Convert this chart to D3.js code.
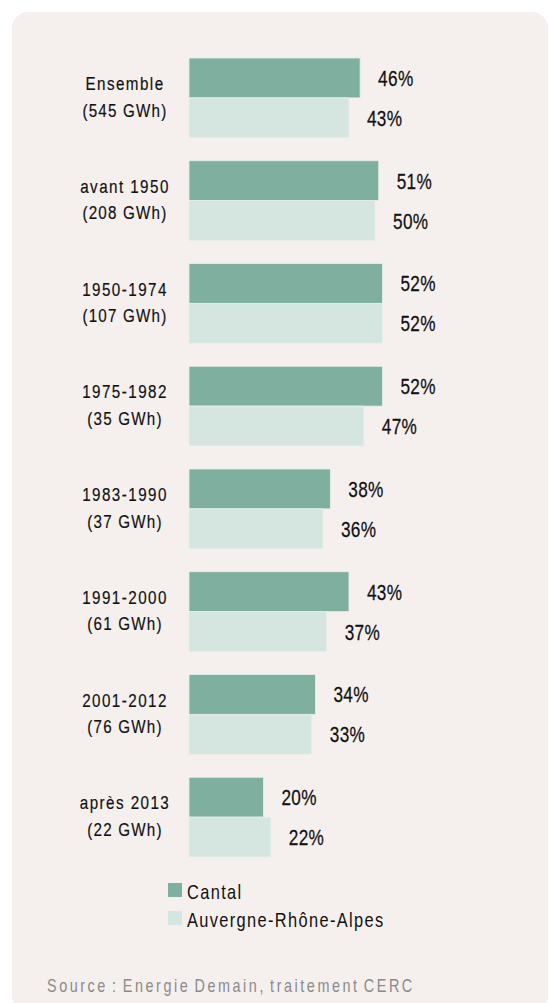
<!DOCTYPE html>
<html><head><meta charset="utf-8">
<script src="https://cdn.jsdelivr.net/npm/d3@7"></script>
<style>
html,body{margin:0;padding:0;background:#fff;}
svg{display:block;}
text{font-family:"Liberation Sans",Arial,sans-serif;}
</style></head>
<body>
<script>
const categories = ["Ensemble","avant 1950","1950-1974","1975-1982","1983-1990","1991-2000","2001-2012","après 2013"];
const consumption = ["(545 GWh)","(208 GWh)","(107 GWh)","(35 GWh)","(37 GWh)","(61 GWh)","(76 GWh)","(22 GWh)"];
const seriesNames = ["Cantal","Auvergne-Rhône-Alpes"];
const cantal = [46,51,52,52,38,43,34,20];
const ara = [43,50,52,47,36,37,33,22];
const sourceText = "Source : Energie Demain, traitement CERC";

const W = 549, H = 1003;
const SX = 0.8; // condensed look
const colors = {"Cantal":"#7faf9f","Auvergne-Rhône-Alpes":"#d5e6e0"};
const cond = (px,py)=>`translate(${px},${py}) scale(${SX},1)`;

const svg = d3.select("body").append("svg").attr("width",W).attr("height",H);
svg.append("rect").attr("x",12).attr("y",12).attr("width",536).attr("height",1000)
  .attr("rx",16).attr("fill","#f5f0ee");

const x = d3.scaleLinear().domain([0,100]).range([189,189+372]);
const y = d3.scaleBand().domain(categories).range([58,857]).paddingInner(0.224).paddingOuter(0);
const ys = d3.scaleBand().domain(seriesNames).range([0,y.bandwidth()]);

const data = categories.map((c,i)=>({cat:c, cons:consumption[i], vals:[
  {s:"Cantal", v:cantal[i]}, {s:"Auvergne-Rhône-Alpes", v:ara[i]}]}));

const g = svg.selectAll("g.grp").data(data).join("g").attr("class","grp")
  .attr("transform",d=>`translate(0,${y(d.cat)})`);

g.selectAll("rect").data(d=>d.vals).join("rect")
  .attr("x",x(0)).attr("y",d=>ys(d.s)).attr("width",d=>x(d.v)-x(0)).attr("height",ys.bandwidth())
  .attr("fill",d=>colors[d.s]).attr("stroke","#e6efeb").attr("stroke-width",0.8);

g.selectAll("text.val").data(d=>d.vals).join("text").attr("class","val")
  .attr("transform",d=>cond(x(d.v)+18, ys(d.s)+ys.bandwidth()/2+8))
  .attr("font-size",21.5).attr("fill","#111").attr("stroke","#111").attr("stroke-width",0.25)
  .attr("letter-spacing","0.4")
  .text(d=>d.v+"%");

g.append("text").attr("transform",cond(125,32)).attr("text-anchor","middle")
  .attr("font-size",19).attr("fill","#111").attr("stroke","#111").attr("stroke-width",0.2)
  .attr("letter-spacing","1.8").text(d=>d.cat);
g.append("text").attr("transform",cond(125,58.5)).attr("text-anchor","middle")
  .attr("font-size",19).attr("fill","#111").attr("stroke","#111").attr("stroke-width",0.2)
  .attr("letter-spacing","1.5").text(d=>d.cons);

const leg = svg.selectAll("g.leg").data(seriesNames).join("g").attr("class","leg")
  .attr("transform",(d,i)=>`translate(168,${883+i*28})`);
leg.append("rect").attr("width",14).attr("height",14).attr("fill",d=>colors[d]);
leg.append("text").attr("transform",cond(19,15.5)).attr("font-size",20.5).attr("fill","#111")
  .attr("letter-spacing","1.7").text(d=>d);

svg.append("text").attr("transform",cond(47,992)).attr("font-size",18).attr("fill","#8a8a8a")
  .attr("letter-spacing","3.2").attr("word-spacing","-3").text(sourceText);
</script>
</body></html>
